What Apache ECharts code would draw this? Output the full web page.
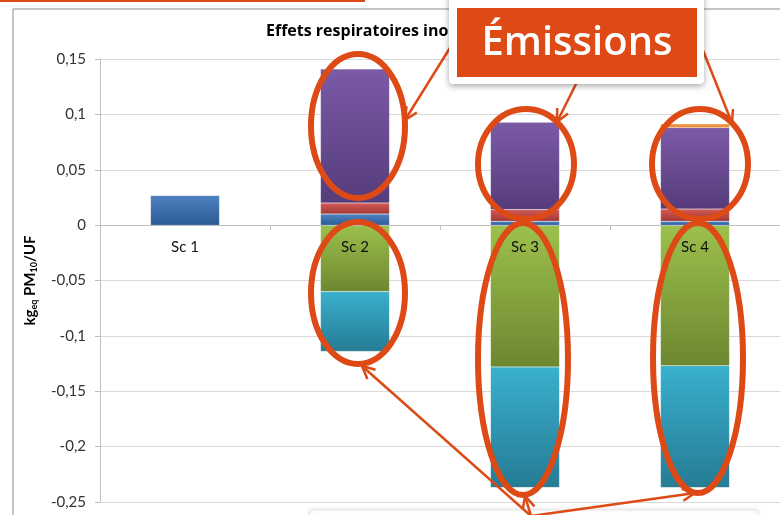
<!DOCTYPE html>
<html>
<head>
<meta charset="utf-8">
<script src="https://cdn.jsdelivr.net/npm/echarts@6/dist/echarts.min.js"></script>
<style>
  html, body { margin: 0; padding: 0; background: #fff; }
  #chart { width: 780px; height: 515px; }
</style>
</head>
<body>
<div id="chart"></div>
<script>
// scénarios
var categories = ['Sc 1', 'Sc 2', 'Sc 3', 'Sc 4'];
// valeurs par poste (kg eq PM10 / UF)
var blueVals   = [0.027, 0.010, 0.0035, 0.0035];
var redVals    = [0, 0.010, 0.0105, 0.011];
var greenVals  = [0, -0.060, -0.128, -0.127];
var purpleVals = [0, 0.121, 0.079, 0.0735];
var cyanVals   = [0, -0.054, -0.109, -0.110];
var orangeVals = [0, 0, 0, 0.0036];

var ORANGE = '#dd4a15';

function grad(top, bottom) {
    return new echarts.graphic.LinearGradient(0, 0, 0, 1, [
        { offset: 0, color: top },
        { offset: 1, color: bottom }
    ]);
}

function fmt(v) {
    return String(+v.toFixed(2)).replace('.', ',');
}

// flèche : ligne + pointe
function arrow(x1, y1, x2, y2) {
    var a = Math.atan2(y2 - y1, x2 - x1), L = 14, s = 0.45;
    var p1 = [x2 - L * Math.cos(a - s), y2 - L * Math.sin(a - s)];
    var p2 = [x2 - L * Math.cos(a + s), y2 - L * Math.sin(a + s)];
    return [
        { type: 'line', z: 120, shape: { x1: x1, y1: y1, x2: x2, y2: y2 }, style: { stroke: ORANGE, lineWidth: 2.5 } },
        { type: 'polyline', z: 120, shape: { points: [p1, [x2, y2], p2] }, style: { stroke: ORANGE, lineWidth: 2.5, fill: null } }
    ];
}

function ellipse(cx, cy, rx, ry) {
    return { type: 'ellipse', z: 110, shape: { cx: cx, cy: cy, rx: rx, ry: ry },
             style: { fill: null, stroke: ORANGE, lineWidth: 6 } };
}

function barSeries(name, data, color) {
    return {
        name: name, type: 'bar', stack: 'total', data: data,
        barWidth: 69,
        itemStyle: { color: color, borderColor: 'rgba(255,255,255,0.25)', borderWidth: 0.5 }
    };
}

var chart = echarts.init(document.getElementById('chart'));

var graphics = [
    // cadre du graphique
    { type: 'rect', z: -1, shape: { x: 13, y: 9, width: 800, height: 520 }, style: { fill: null, stroke: '#8c8c8c', lineWidth: 1 } },
    // trait orange en haut
    { type: 'line', shape: { x1: 0, y1: 0.5, x2: 365, y2: 0.5 }, style: { stroke: ORANGE, lineWidth: 3 } },
    // boîte du bas
    { type: 'rect', z: 90, shape: { x: 310, y: 510, width: 448, height: 30, r: 3 },
      style: { fill: '#fff', stroke: '#e8e8e8', lineWidth: 1, shadowBlur: 4, shadowColor: 'rgba(0,0,0,0.12)' } },
    ellipse(358, 126, 47, 72),
    ellipse(358, 293, 47, 71),
    ellipse(526, 164, 48, 55),
    ellipse(523, 359, 45, 136),
    ellipse(700, 164, 48, 55),
    ellipse(698, 358, 45, 135),
    // étiquette Émissions
    { type: 'rect', z: 130, shape: { x: 449, y: -6, width: 255, height: 90, r: 4 },
      style: { fill: '#fff', shadowBlur: 6, shadowOffsetY: 2, shadowColor: 'rgba(0,0,0,0.35)' } },
    { type: 'rect', z: 131, shape: { x: 457, y: 8, width: 240, height: 69 }, style: { fill: ORANGE } },
    { type: 'text', z: 132, x: 577, y: 44,
      style: { text: 'Émissions', fill: '#fff', font: '600 40px "Open Sans"', align: 'center', verticalAlign: 'middle' } }
];
graphics = graphics
    .concat(arrow(453, 43, 405, 120))
    .concat(arrow(577, 82, 557, 122))
    .concat(arrow(700, 43, 732, 123))
    .concat(arrow(531, 516, 362, 366))
    .concat(arrow(531, 516, 525, 496))
    .concat(arrow(531, 516, 695, 493));

var option = {
    animation: false,
    backgroundColor: '#fff',
    title: {
        text: 'Effets respiratoires inorganiques',
        left: 261, top: 18,
        textStyle: { fontFamily: 'Open Sans', fontWeight: 'bold', fontSize: 16, color: '#000' }
    },
    grid: { left: 100, right: 0, top: 59, bottom: 13, containLabel: false, outerBoundsMode: 'none' },
    xAxis: {
        type: 'category',
        data: categories,
        z: 10,
        offset: -277,
        axisLine: { onZero: false, lineStyle: { color: '#bfbfbf' } },
        axisTick: { show: true, length: 5, lineStyle: { color: '#bfbfbf' } },
        axisLabel: { margin: 15, fontSize: 15, fontFamily: 'Lato', color: '#111' }
    },
    yAxis: {
        type: 'value',
        min: -0.25, max: 0.15, interval: 0.05,
        name: '{a|kg}{s|eq}{a| PM}{s|10}{a|/UF}',
        nameLocation: 'middle',
        nameGap: 61,
        nameTextStyle: {
            rich: {
                a: { fontFamily: 'Lato', fontWeight: 'bold', fontSize: 15, color: '#000', lineHeight: 18 },
                s: { fontFamily: 'Lato', fontWeight: 'bold', fontSize: 9, color: '#000', verticalAlign: 'bottom', lineHeight: 18, padding: [7, 0, 0, 0] }
            }
        },
        axisLine: { show: true, lineStyle: { color: '#bfbfbf' } },
        axisTick: { show: true, length: 5, lineStyle: { color: '#bfbfbf' } },
        splitLine: { lineStyle: { color: '#d9d9d9' } },
        axisLabel: { margin: 14, fontSize: 15, fontFamily: 'Lato', color: '#333', formatter: fmt }
    },
    series: [
        barSeries('Bleu', blueVals, grad('#4f82c0', '#2b5b96')),
        barSeries('Rouge', redVals, grad('#d25a56', '#a23835')),
        barSeries('Vert', greenVals, grad('#9cc04c', '#6c8730')),
        barSeries('Violet', purpleVals, grad('#7b5aa6', '#553c7b')),
        barSeries('Cyan', cyanVals, grad('#39b0cd', '#267b94')),
        barSeries('Orange', orangeVals, grad('#f9a35a', '#e07d2c'))
    ],
    graphic: graphics
};

chart.setOption(option);
</script>
</body>
</html>
